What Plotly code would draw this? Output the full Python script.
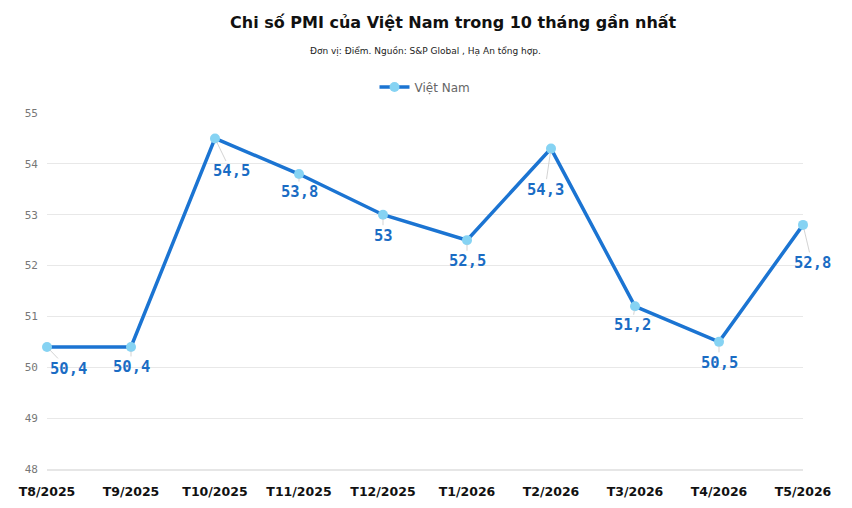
import plotly.graph_objects as go

months = ["T8/2025", "T9/2025", "T10/2025", "T11/2025", "T12/2025",
          "T1/2026", "T2/2026", "T3/2026", "T4/2026", "T5/2026"]
pmi = [50.4, 50.4, 54.5, 53.8, 53.0, 52.5, 54.3, 51.2, 50.5, 52.8]
labels = ["50,4", "50,4", "54,5", "53,8", "53", "52,5", "54,3", "51,2", "50,5", "52,8"]
y_ticks = [48, 49, 50, 51, 52, 53, 54, 55]

# label offsets (pixels) for the leader lines
label_dx = [21, 0, 16, 0, 0, 0, -6, -3, 0, 9]
label_dy = [22, 20, 33, 18, 21, 21, 41, 19, 21, 38]

W, H = 852, 508
L, R, T, B = 47, 49, 113, 39
pw, ph = W - L - R, H - T - B


def px_to_paper(px, py):
    return (px - L) / pw, (H - B - py) / ph


fig = go.Figure()
fig.add_trace(go.Scatter(
    x=list(range(len(months))), y=pmi, mode="lines+markers", name="Việt Nam",
    line=dict(color="#1b74d2", width=3.5),
    marker=dict(color="#86d3f3", size=10),
    cliponaxis=False,
))

anns = []
for i, (v, lab) in enumerate(zip(pmi, labels)):
    anns.append(dict(
        x=i, y=v, xref="x", yref="y", text=lab, showarrow=True,
        arrowhead=0, arrowwidth=0.8, arrowcolor="#c8c8c8",
        ax=label_dx[i], ay=label_dy[i], standoff=4,
        font=dict(family="DejaVu Sans Mono", size=15.5, color="#1a6cc4", weight="bold"),
    ))

tx, ty = px_to_paper(453, 22)
sx, sy = px_to_paper(425, 52)
anns.append(dict(x=tx, y=ty, xref="paper", yref="paper",
                 text="<b>Chi số PMI của Việt Nam trong 10 tháng gần nhất</b>",
                 showarrow=False, font=dict(family="DejaVu Sans", size=16, color="#111111"),
                 xanchor="center", yanchor="middle"))
anns.append(dict(x=sx, y=sy, xref="paper", yref="paper",
                 text="Đơn vị: Điểm. Nguồn: S&P Global , Hạ An tổng hợp.",
                 showarrow=False, font=dict(family="DejaVu Sans", size=9, color="#222222"),
                 xanchor="center", yanchor="middle"))

fig.update_layout(
    width=W, height=H,
    margin=dict(l=L, r=R, t=T, b=B),
    paper_bgcolor="white", plot_bgcolor="white",
    showlegend=True,
    legend=dict(orientation="h", x=0.5, xanchor="center", y=1 + (T - 87) / ph, yanchor="middle",
                font=dict(family="DejaVu Sans", size=12, color="#666666"),
                itemwidth=30),
    xaxis=dict(
        range=[0, len(months) - 1], tickvals=list(range(len(months))),
        ticktext=[f"<b>{m}</b>" for m in months],
        showgrid=False, zeroline=False, showline=True, linecolor="#e6e6e6", linewidth=1.5,
        tickfont=dict(family="DejaVu Sans", size=12.5, color="#111111"),
        ticks="", ticklabelstandoff=10, automargin=False,
    ),
    yaxis=dict(
        range=[48, 55], tickvals=y_ticks, ticktext=[str(t) for t in y_ticks],
        showgrid=True, gridcolor="#e8e8e8", gridwidth=1, zeroline=False, showline=False,
        tickfont=dict(family="DejaVu Sans Mono", size=11, color="#777777"),
        ticklabelstandoff=8, automargin=False,
    ),
    annotations=anns,
)

fig.write_html("out.html")
